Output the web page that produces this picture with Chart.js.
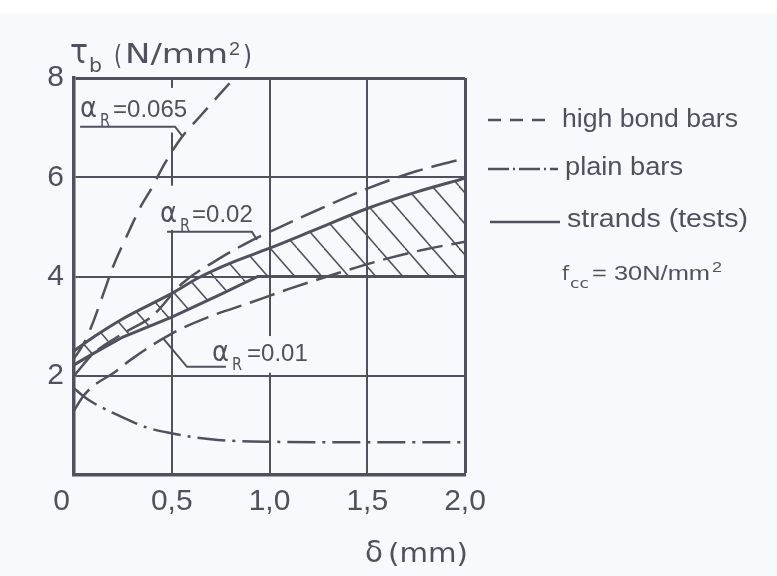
<!DOCTYPE html>
<html><head><meta charset="utf-8">
<script src="https://cdn.jsdelivr.net/npm/chart.js@4.4.1/dist/chart.umd.min.js"></script>
<style>html,body{margin:0;padding:0;background:#f7fafc;}canvas{display:block;}</style>
</head><body>
<canvas id="c" width="777" height="576"></canvas>
<script>
// ---- data ----
const xTickValues = [0, 0.5, 1.0, 1.5, 2.0];
const xTickLabels = ['0', '0,5', '1,0', '1,5', '2,0'];
const yTickValues = [0, 2, 4, 6, 8];
const yTickLabels = ['', '2', '4', '6', '8'];

// strands (tests) – upper and lower bound (solid)
const strandUpperX = [0, 0.1, 0.25, 0.5, 0.64, 0.8, 1.0, 1.25, 1.5, 1.75, 2.0];
const strandUpperY = [2.5, 2.78, 3.15, 3.66, 3.98, 4.27, 4.57, 4.97, 5.37, 5.7, 5.98];
const strandLowerX = [0, 0.1, 0.25, 0.5, 0.75, 0.94, 2.0];
const strandLowerY = [2.22, 2.45, 2.78, 3.18, 3.64, 4.0, 4.0];
// high bond bars (dashed)
const hbMidX = [0, 0.1, 0.25, 0.4, 0.55, 0.73, 0.91, 1.04, 1.24, 1.5, 1.75, 2.0];
const hbMidY = [2.0, 2.45, 2.85, 3.2, 3.85, 4.33, 4.73, 4.97, 5.33, 5.77, 6.12, 6.38];
const hbLowX = [0, 0.05, 0.1, 0.2, 0.3, 0.5, 0.7, 0.9, 1.1, 1.36, 1.61, 1.8, 2.0];
const hbLowY = [1.3, 1.6, 1.8, 2.05, 2.35, 2.85, 3.2, 3.47, 3.75, 4.08, 4.37, 4.55, 4.7];
const hbHighX = [0, 0.05, 0.1, 0.15, 0.2, 0.28, 0.34, 0.4, 0.46, 0.55, 0.65, 0.74, 0.82];
const hbHighY = [2.35, 2.65, 3.1, 3.65, 4.2, 4.9, 5.4, 5.8, 6.25, 6.8, 7.25, 7.65, 8.0];
// plain bars (dash-dot)
const plainX = [0, 0.05, 0.1, 0.2, 0.3, 0.37, 0.5, 0.6, 0.7, 0.8, 1.0, 1.5, 2.0];
const plainY = [1.75, 1.58, 1.45, 1.25, 1.07, 0.96, 0.84, 0.77, 0.72, 0.69, 0.67, 0.66, 0.66];

const legendLabels = ['high bond bars', 'plain bars', 'strands (tests)'];
const alphaValues = ['0.065', '0.02', '0.01'];
const concreteNote = ['f', 'cc', '= 30N/mm', '2'];

// ---- styles ----
const INK = '#4f525d';
const LET = '"DejaVu Sans", sans-serif';
const DIG = '"Liberation Sans", Arial, sans-serif';
const pts = (xs, ys) => xs.map((x, i) => ({x, y: ys[i]}));

function hatchPattern() {
  const w = 27, h = 31;
  const c = document.createElement('canvas'); c.width = w; c.height = h;
  const g = c.getContext('2d');
  g.strokeStyle = INK; g.lineWidth = 1.5;
  for (const o of [-w, 0, w]) { g.beginPath(); g.moveTo(o, 0); g.lineTo(o + w, h); g.stroke(); }
  return g.createPattern(c, 'repeat');
}

function txt(ctx, s, x, y, size, fam, w) {
  ctx.font = size + 'px ' + fam;
  ctx.textAlign = 'left'; ctx.textBaseline = 'alphabetic';
  const m = ctx.measureText(s).width;
  ctx.save(); ctx.translate(x, y);
  if (w) ctx.scale(w / m, 1);
  ctx.fillText(s, 0, 0); ctx.restore();
}

// annotation geometry (data units)
const annot = [
  {at: [0.031, 7.22], leader: [[0.031, 7.02], [0.517, 7.02], [0.558, 6.81]], mask: [[0.016, 7.80], [0.585, 6.90]], eqDx: 33},
  {at: [0.44, 5.10], leader: [[0.476, 4.90], [0.910, 4.90], [0.936, 4.74]], mask: [[0.42, 5.83], [0.905, 4.94]], eqDx: 32},
  {at: [0.706, 2.30], leader: [[0.455, 2.76], [0.578, 2.18], [0.777, 2.18]], mask: [[0.69, 2.80], [1.21, 2.06]], eqDx: 35}
];

const decor = {
  id: 'decor',
  beforeDraw(chart) {
    const c = chart.ctx;
    c.save(); c.fillStyle = '#f7fafc'; c.fillRect(0, 0, chart.width, chart.height);
    c.fillStyle = '#ffffff'; c.fillRect(0, 0, chart.width, 14); c.restore();
  },
  beforeDatasetsDraw(chart) {
    const c = chart.ctx, xs = chart.scales.x, ys = chart.scales.y;
    c.save(); c.fillStyle = '#f7fafc';
    annot.forEach(a => {
      const x0 = xs.getPixelForValue(a.mask[0][0]), y0 = ys.getPixelForValue(a.mask[0][1]);
      const x1 = xs.getPixelForValue(a.mask[1][0]), y1 = ys.getPixelForValue(a.mask[1][1]);
      c.fillRect(x0, y0, x1 - x0, y1 - y0);
    });
    c.restore();
  },
  afterDatasetsDraw(chart) {
    const c = chart.ctx, xs = chart.scales.x, ys = chart.scales.y;
    c.save();
    c.fillStyle = INK; c.strokeStyle = INK; c.lineCap = 'butt';
    // alpha_R annotations
    annot.forEach((a, i) => {
      const px = xs.getPixelForValue(a.at[0]), py = ys.getPixelForValue(a.at[1]);
      txt(c, 'α', px, py, 28, LET, 17);
      txt(c, 'R', px + 20, py + 9, 17, LET, 10);
      txt(c, '=' + alphaValues[i], px + a.eqDx, py, 24, DIG);
      c.lineWidth = 2; c.setLineDash([]);
      c.beginPath();
      a.leader.forEach((p, k) => {
        const X = xs.getPixelForValue(p[0]), Y = ys.getPixelForValue(p[1]);
        k ? c.lineTo(X, Y) : c.moveTo(X, Y);
      });
      c.stroke();
    });
    // legend
    const lx = [[488, 553], [488, 558], [490, 560]];
    const ly = [120, 169, 222];
    const ldash = [[13, 9], [21, 4, 2, 4], []];
    const tx = [562, 565, 567], tb = [127, 175, 227], tw = [176, 118, 181];
    legendLabels.forEach((lab, i) => {
      c.lineWidth = 2.5; c.setLineDash(ldash[i]);
      c.beginPath(); c.moveTo(lx[i][0], ly[i]); c.lineTo(lx[i][1], ly[i]); c.stroke();
      txt(c, lab, tx[i], tb[i], 26, DIG, tw[i]);
    });
    c.setLineDash([]);
    txt(c, concreteNote[0], 562, 280, 20, LET, 7);
    txt(c, concreteNote[1], 570, 288, 14, LET, 19);
    txt(c, concreteNote[2], 592, 280, 20, DIG, 118);
    txt(c, concreteNote[3], 712, 272, 14, DIG, 10);
    // axis titles
    txt(c, 'τ', 70, 63, 34, LET, 18);
    txt(c, 'b', 89, 72, 20, LET, 13);
    txt(c, '(', 114, 64, 27, LET, 8);
    txt(c, 'N/mm', 125, 63, 26, LET, 103);
    txt(c, '2', 229, 55, 18, DIG, 11);
    txt(c, ')', 243, 64, 27, LET, 9);
    txt(c, 'δ', 365, 562, 30, LET, 18);
    txt(c, '(mm)', 388, 562, 27, LET, 80);
    c.restore();
  }
};

const base = {borderColor: INK, backgroundColor: INK, pointRadius: 0, fill: false, borderWidth: 2.5,
  cubicInterpolationMode: 'monotone', borderCapStyle: 'butt'};

new Chart(document.getElementById('c'), {
  type: 'line',
  data: {
    datasets: [
      Object.assign({}, base, {label: 'strands upper', data: pts(strandUpperX, strandUpperY), borderWidth: 3,
        fill: {target: 1}, backgroundColor: hatchPattern()}),
      Object.assign({}, base, {label: 'strands lower', data: pts(strandLowerX, strandLowerY), borderWidth: 3,
        cubicInterpolationMode: 'default', tension: 0}),
      Object.assign({}, base, {label: 'high bond αR=0.02', data: pts(hbMidX, hbMidY), borderDash: [26, 9]}),
      Object.assign({}, base, {label: 'high bond αR=0.01', data: pts(hbLowX, hbLowY), borderDash: [26, 9]}),
      Object.assign({}, base, {label: 'high bond αR=0.065', data: pts(hbHighX, hbHighY), borderDash: [22, 11]}),
      Object.assign({}, base, {label: 'plain bars', data: pts(plainX, plainY), borderDash: [28, 7, 3, 7]})
    ]
  },
  options: {
    responsive: false, animation: false, devicePixelRatio: 1,
    layout: {padding: {top: 78, right: 312, bottom: 0, left: 0}},
    plugins: {legend: {display: false}, tooltip: {enabled: false}, filler: {propagate: false}},
    scales: {
      x: {
        type: 'linear', min: 0, max: 2,
        afterFit: s => { s.height = 101; },
        afterBuildTicks: s => { s.ticks = xTickValues.map(v => ({value: v})); },
        border: {color: INK, width: 3.5},
        grid: {color: INK, lineWidth: ctx => (ctx.tick && ctx.tick.value === 2 ? 3 : 2), drawTicks: false},
        ticks: {color: INK, padding: 9, maxRotation: 0, autoSkip: false, font: {family: DIG, size: 30},
          callback: (v) => { const i = xTickValues.indexOf(v); return i === 0 ? xTickLabels[i] + '   ' : xTickLabels[i]; }}
      },
      y: {
        type: 'linear', min: 0, max: 8,
        afterFit: s => { s.width = 74; },
        afterBuildTicks: s => { s.ticks = yTickValues.map(v => ({value: v})); },
        border: {color: INK, width: 3.5},
        grid: {color: INK, lineWidth: ctx => (ctx.tick && ctx.tick.value === 8 ? 3 : 2), drawTicks: false},
        ticks: {color: INK, padding: 10, autoSkip: false, font: {family: DIG, size: 30},
          callback: (v) => yTickLabels[yTickValues.indexOf(v)]}
      }
    }
  },
  plugins: [decor]
});
</script>
</body></html>
